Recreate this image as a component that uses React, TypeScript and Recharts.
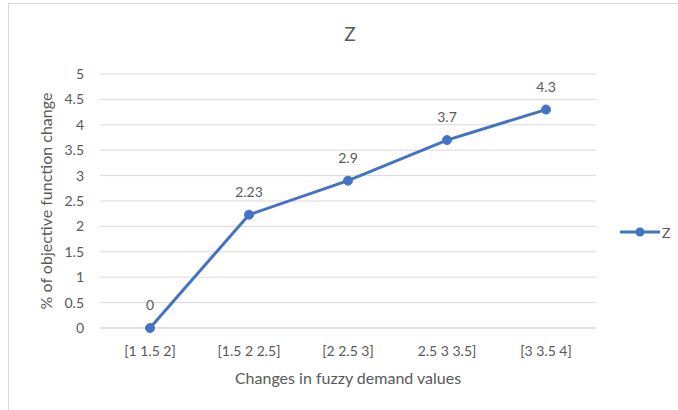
import { LineChart, Line, XAxis, YAxis, CartesianGrid, LabelList } from "recharts";

// interval labels as printed on the category axis
const categories = ["[1 1.5 2]", "[1.5 2 2.5]", "[2 2.5 3]", "2.5 3 3.5]", "[3 3.5 4]"];
const zValues = [0, 2.23, 2.9, 3.7, 4.3];
const yTicks = [0, 0.5, 1, 1.5, 2, 2.5, 3, 3.5, 4, 4.5, 5];

const data = categories.map((c, i) => ({ name: c, Z: zValues[i] }));

const FONT = "Lato, 'Open Sans', sans-serif";
const TEXT = "#595959";
const BLUE = "#4472C4";

function LegendItem() {
  return (
    <div style={{ position: "absolute", left: 619, top: 222, display: "flex", alignItems: "center" }}>
      <svg width={42} height={20}>
        <line x1={1} y1={10} x2={41} y2={10} stroke={BLUE} strokeWidth={3} />
        <circle cx={21} cy={10} r={4.5} fill={BLUE} />
      </svg>
      <span style={{ fontFamily: FONT, fontSize: 14, color: TEXT, marginLeft: 1 }}>Z</span>
    </div>
  );
}

export default function App() {
  return (
    <div style={{ position: "absolute", left: 0, top: 0, width: 678, height: 410, background: "#fff" }}>
      <div
        style={{
          position: "absolute",
          left: 8,
          top: 3,
          width: 676,
          height: 412,
          border: "1px solid #d9d9d9",
          boxSizing: "border-box",
        }}
      />
      <div
        style={{
          position: "absolute",
          left: 0,
          width: 700,
          top: 22,
          textAlign: "center",
          fontFamily: FONT,
          fontSize: 19,
          color: TEXT,
        }}
      >
        Z
      </div>
      <div style={{ position: "absolute", left: 0, top: 0 }}>
        <LineChart
          width={678}
          height={410}
          data={data}
          margin={{ top: 74, right: 82, bottom: 22, left: 40 }}
        >
          <CartesianGrid vertical={false} stroke="#d9d9d9" />
          <XAxis
            dataKey="name"
            height={60}
            padding={{ left: 50, right: 50 }}
            tickLine={false}
            axisLine={{ stroke: "#d9d9d9" }}
            tick={{ fill: TEXT, fontSize: 14, fontFamily: FONT }}
            tickMargin={12}
            interval={0}
            label={{
              value: "Changes in fuzzy demand values",
              position: "insideBottom",
              offset: 4,
              fill: TEXT,
              fontSize: 16,
              fontFamily: FONT,
            }}
          />
          <YAxis
            width={60}
            domain={[0, 5]}
            ticks={yTicks}
            interval={0}
            tickLine={false}
            axisLine={false}
            tick={{ fill: TEXT, fontSize: 14, fontFamily: FONT }}
            tickMargin={10}
            label={{
              value: "% of objective function change",
              angle: -90,
              position: "insideLeft",
              offset: 6,
              fill: TEXT,
              fontSize: 16,
              fontFamily: FONT,
              style: { textAnchor: "middle" },
            }}
          />
          <Line
            dataKey="Z"
            stroke={BLUE}
            strokeWidth={3}
            dot={{ r: 4.5, fill: BLUE, stroke: BLUE, strokeWidth: 1 }}
            isAnimationActive={false}
          >
            <LabelList dataKey="Z" position="top" offset={18} fill={TEXT} fontSize={14} fontFamily={FONT} />
          </Line>
        </LineChart>
      </div>
      <LegendItem />
    </div>
  );
}
